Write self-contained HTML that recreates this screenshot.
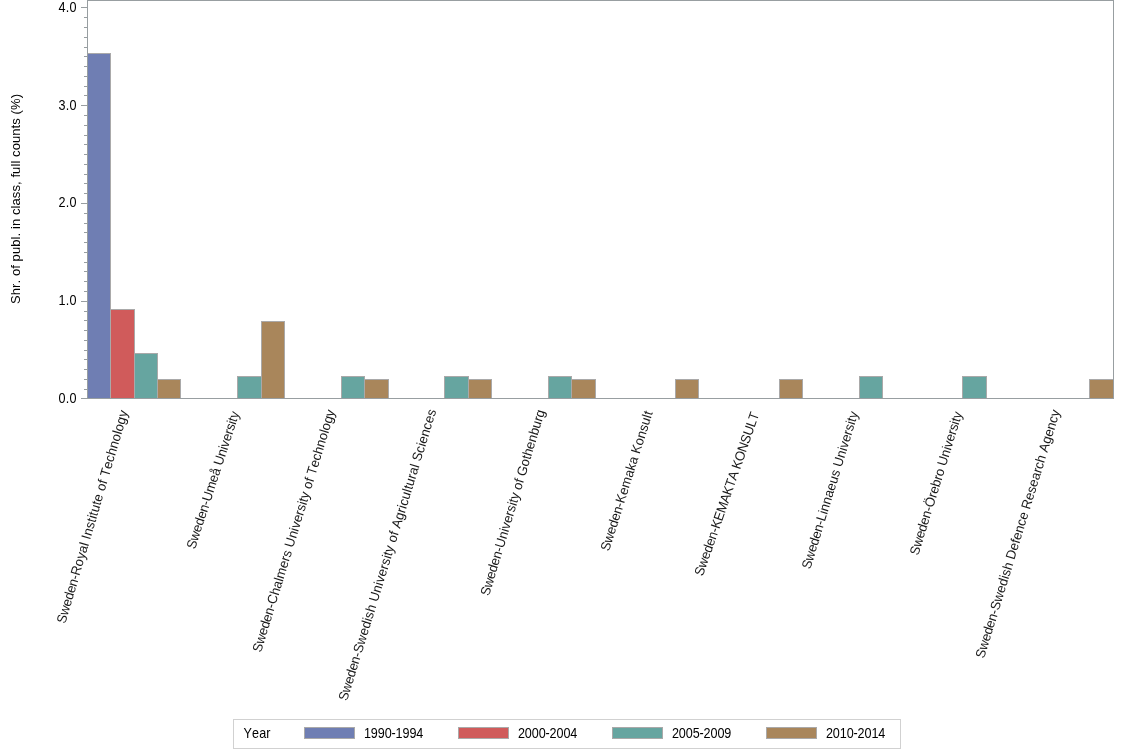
<!DOCTYPE html>
<html lang="en"><head><meta charset="utf-8"><title>Shr. of publ. in class</title>
<style>html,body{margin:0;padding:0;background:#fff}body{width:1134px;height:756px;overflow:hidden}svg{display:block}text{font-family:"Liberation Sans",sans-serif;font-size:13.33px;fill:#000;font-kerning:none}</style></head><body>
<svg width="1134" height="756" viewBox="0 0 1134 756">
<rect x="0" y="0" width="1134" height="756" fill="#fff"/>
<g shape-rendering="crispEdges">
<rect x="87.5" y="53.5" width="23" height="345" fill="#6F7EB3" stroke="#AAA9A9" stroke-width="1"/>
<rect x="110.5" y="309.5" width="24" height="89" fill="#D05B5B" stroke="#AAA9A9" stroke-width="1"/>
<rect x="134.5" y="353.5" width="23" height="45" fill="#66A5A0" stroke="#AAA9A9" stroke-width="1"/>
<rect x="157.5" y="379.5" width="23" height="19" fill="#A9865B" stroke="#AAA9A9" stroke-width="1"/>
<rect x="237.5" y="376.5" width="24" height="22" fill="#66A5A0" stroke="#AAA9A9" stroke-width="1"/>
<rect x="261.5" y="321.5" width="23" height="77" fill="#A9865B" stroke="#AAA9A9" stroke-width="1"/>
<rect x="341.5" y="376.5" width="23" height="22" fill="#66A5A0" stroke="#AAA9A9" stroke-width="1"/>
<rect x="364.5" y="379.5" width="24" height="19" fill="#A9865B" stroke="#AAA9A9" stroke-width="1"/>
<rect x="444.5" y="376.5" width="24" height="22" fill="#66A5A0" stroke="#AAA9A9" stroke-width="1"/>
<rect x="468.5" y="379.5" width="23" height="19" fill="#A9865B" stroke="#AAA9A9" stroke-width="1"/>
<rect x="548.5" y="376.5" width="23" height="22" fill="#66A5A0" stroke="#AAA9A9" stroke-width="1"/>
<rect x="571.5" y="379.5" width="24" height="19" fill="#A9865B" stroke="#AAA9A9" stroke-width="1"/>
<rect x="675.5" y="379.5" width="23" height="19" fill="#A9865B" stroke="#AAA9A9" stroke-width="1"/>
<rect x="779.5" y="379.5" width="23" height="19" fill="#A9865B" stroke="#AAA9A9" stroke-width="1"/>
<rect x="859.5" y="376.5" width="23" height="22" fill="#66A5A0" stroke="#AAA9A9" stroke-width="1"/>
<rect x="962.5" y="376.5" width="24" height="22" fill="#66A5A0" stroke="#AAA9A9" stroke-width="1"/>
<rect x="1089.5" y="379.5" width="24" height="19" fill="#A9865B" stroke="#AAA9A9" stroke-width="1"/>
<rect x="87.5" y="0.5" width="1026" height="398" fill="none" stroke="#989EA1" stroke-width="1"/>
<rect x="81" y="398" width="6" height="1" fill="#989EA1"/>
<rect x="84" y="389" width="3" height="1" fill="#989EA1"/>
<rect x="84" y="379" width="3" height="1" fill="#989EA1"/>
<rect x="84" y="369" width="3" height="1" fill="#989EA1"/>
<rect x="84" y="359" width="3" height="1" fill="#989EA1"/>
<rect x="84" y="350" width="3" height="1" fill="#989EA1"/>
<rect x="84" y="340" width="3" height="1" fill="#989EA1"/>
<rect x="84" y="330" width="3" height="1" fill="#989EA1"/>
<rect x="84" y="320" width="3" height="1" fill="#989EA1"/>
<rect x="84" y="311" width="3" height="1" fill="#989EA1"/>
<rect x="81" y="301" width="6" height="1" fill="#989EA1"/>
<rect x="84" y="291" width="3" height="1" fill="#989EA1"/>
<rect x="84" y="281" width="3" height="1" fill="#989EA1"/>
<rect x="84" y="271" width="3" height="1" fill="#989EA1"/>
<rect x="84" y="262" width="3" height="1" fill="#989EA1"/>
<rect x="84" y="252" width="3" height="1" fill="#989EA1"/>
<rect x="84" y="242" width="3" height="1" fill="#989EA1"/>
<rect x="84" y="232" width="3" height="1" fill="#989EA1"/>
<rect x="84" y="223" width="3" height="1" fill="#989EA1"/>
<rect x="84" y="213" width="3" height="1" fill="#989EA1"/>
<rect x="81" y="203" width="6" height="1" fill="#989EA1"/>
<rect x="84" y="193" width="3" height="1" fill="#989EA1"/>
<rect x="84" y="183" width="3" height="1" fill="#989EA1"/>
<rect x="84" y="174" width="3" height="1" fill="#989EA1"/>
<rect x="84" y="164" width="3" height="1" fill="#989EA1"/>
<rect x="84" y="154" width="3" height="1" fill="#989EA1"/>
<rect x="84" y="144" width="3" height="1" fill="#989EA1"/>
<rect x="84" y="135" width="3" height="1" fill="#989EA1"/>
<rect x="84" y="125" width="3" height="1" fill="#989EA1"/>
<rect x="84" y="115" width="3" height="1" fill="#989EA1"/>
<rect x="81" y="105" width="6" height="1" fill="#989EA1"/>
<rect x="84" y="95" width="3" height="1" fill="#989EA1"/>
<rect x="84" y="86" width="3" height="1" fill="#989EA1"/>
<rect x="84" y="76" width="3" height="1" fill="#989EA1"/>
<rect x="84" y="66" width="3" height="1" fill="#989EA1"/>
<rect x="84" y="56" width="3" height="1" fill="#989EA1"/>
<rect x="84" y="47" width="3" height="1" fill="#989EA1"/>
<rect x="84" y="37" width="3" height="1" fill="#989EA1"/>
<rect x="84" y="27" width="3" height="1" fill="#989EA1"/>
<rect x="84" y="17" width="3" height="1" fill="#989EA1"/>
<rect x="81" y="7" width="6" height="1" fill="#989EA1"/>
</g>
<text transform="translate(76.5,403) scale(0.9,1)" style="font-size:14px" text-anchor="end" textLength="20.00" lengthAdjust="spacing">0.0</text>
<text transform="translate(76.5,305) scale(0.9,1)" style="font-size:14px" text-anchor="end" textLength="20.00" lengthAdjust="spacing">1.0</text>
<text transform="translate(76.5,207) scale(0.9,1)" style="font-size:14px" text-anchor="end" textLength="20.00" lengthAdjust="spacing">2.0</text>
<text transform="translate(76.5,110) scale(0.9,1)" style="font-size:14px" text-anchor="end" textLength="20.00" lengthAdjust="spacing">3.0</text>
<text transform="translate(76.5,12) scale(0.9,1)" style="font-size:14px" text-anchor="end" textLength="20.00" lengthAdjust="spacing">4.0</text>
<text transform="translate(20,304) rotate(-90) scale(0.962963,1)" style="font-size:13.5px" textLength="218.08" lengthAdjust="spacing">Shr. of publ. in class, full counts (%)</text>
<text  transform="translate(65.15,624.20) rotate(-73.47) scale(0.9630,1)" style="font-size:13.5px" fill-opacity="0.9"><tspan textLength="51.92" lengthAdjust="spacing">Sweden-</tspan><tspan x="51.92" textLength="178.10" lengthAdjust="spacing">Royal Institute of Technology</tspan></text>
<text  transform="translate(194.90,549.70) rotate(-71.94) scale(0.9630,1)" style="font-size:13.5px" fill-opacity="0.9"><tspan textLength="51.92" lengthAdjust="spacing">Sweden-</tspan><tspan x="51.92" textLength="97.22" lengthAdjust="spacing">Umeå University</tspan></text>
<text  transform="translate(260.95,652.90) rotate(-72.93) scale(0.9630,1)" style="font-size:13.5px" fill-opacity="0.9"><tspan textLength="51.92" lengthAdjust="spacing">Sweden-</tspan><tspan x="51.92" textLength="210.64" lengthAdjust="spacing">Chalmers University of Technology</tspan></text>
<text  transform="translate(347.00,701.60) rotate(-72.92) scale(0.9630,1)" style="font-size:13.5px" fill-opacity="0.9"><tspan textLength="51.92" lengthAdjust="spacing">Sweden-</tspan><tspan x="51.92" textLength="263.96" lengthAdjust="spacing">Swedish University of Agricultural Sciences</tspan></text>
<text  transform="translate(488.95,596.55) rotate(-73.16) scale(0.9630,1)" style="font-size:13.5px" fill-opacity="0.9"><tspan textLength="51.92" lengthAdjust="spacing">Sweden-</tspan><tspan x="51.92" textLength="149.16" lengthAdjust="spacing">University of Gothenburg</tspan></text>
<text  transform="translate(609.05,551.70) rotate(-72.54) scale(0.9630,1)" style="font-size:13.5px" fill-opacity="0.9"><tspan textLength="51.92" lengthAdjust="spacing">Sweden-</tspan><tspan x="51.92" textLength="99.48" lengthAdjust="spacing">Kemaka Konsult</tspan></text>
<text  transform="translate(702.80,576.70) rotate(-70.82) scale(0.9630,1)" style="font-size:13.5px" fill-opacity="0.9"><tspan textLength="51.92" lengthAdjust="spacing">Sweden-</tspan><tspan x="51.92" textLength="126.96" lengthAdjust="spacing">KEMAKTA KONSULT</tspan></text>
<text  transform="translate(810.15,569.70) rotate(-72.90) scale(0.9630,1)" style="font-size:13.5px" fill-opacity="0.9"><tspan textLength="51.92" lengthAdjust="spacing">Sweden-</tspan><tspan x="51.92" textLength="118.31" lengthAdjust="spacing">Linnaeus University</tspan></text>
<text  transform="translate(918.15,555.90) rotate(-72.77) scale(0.9630,1)" style="font-size:13.5px" fill-opacity="0.9"><tspan textLength="51.92" lengthAdjust="spacing">Sweden-</tspan><tspan x="51.92" textLength="103.25" lengthAdjust="spacing">Örebro University</tspan></text>
<text  transform="translate(984.05,658.90) rotate(-72.93) scale(0.9630,1)" style="font-size:13.5px" fill-opacity="0.9"><tspan textLength="51.92" lengthAdjust="spacing">Sweden-</tspan><tspan x="51.92" textLength="217.18" lengthAdjust="spacing">Swedish Defence Research Agency</tspan></text>
<rect x="233.5" y="719.5" width="667" height="29" fill="#fff" stroke="#D1D1D1" stroke-width="1" shape-rendering="crispEdges"/>
<text transform="translate(243.5,738) scale(0.9,1)" style="font-size:14px" text-anchor="start" textLength="30.00" lengthAdjust="spacing">Year</text>
<rect x="304.5" y="727.5" width="50" height="11" fill="#6F7EB3" stroke="#AAA9A9" stroke-width="1" shape-rendering="crispEdges"/>
<text transform="translate(364,738) scale(0.9,1)" style="font-size:14px" text-anchor="start" textLength="65.89" lengthAdjust="spacing">1990-1994</text>
<rect x="458.5" y="727.5" width="50" height="11" fill="#D05B5B" stroke="#AAA9A9" stroke-width="1" shape-rendering="crispEdges"/>
<text transform="translate(518,738) scale(0.9,1)" style="font-size:14px" text-anchor="start" textLength="65.89" lengthAdjust="spacing">2000-2004</text>
<rect x="612.5" y="727.5" width="50" height="11" fill="#66A5A0" stroke="#AAA9A9" stroke-width="1" shape-rendering="crispEdges"/>
<text transform="translate(672,738) scale(0.9,1)" style="font-size:14px" text-anchor="start" textLength="65.89" lengthAdjust="spacing">2005-2009</text>
<rect x="766.5" y="727.5" width="50" height="11" fill="#A9865B" stroke="#AAA9A9" stroke-width="1" shape-rendering="crispEdges"/>
<text transform="translate(826,738) scale(0.9,1)" style="font-size:14px" text-anchor="start" textLength="65.89" lengthAdjust="spacing">2010-2014</text>
</svg></body></html>
